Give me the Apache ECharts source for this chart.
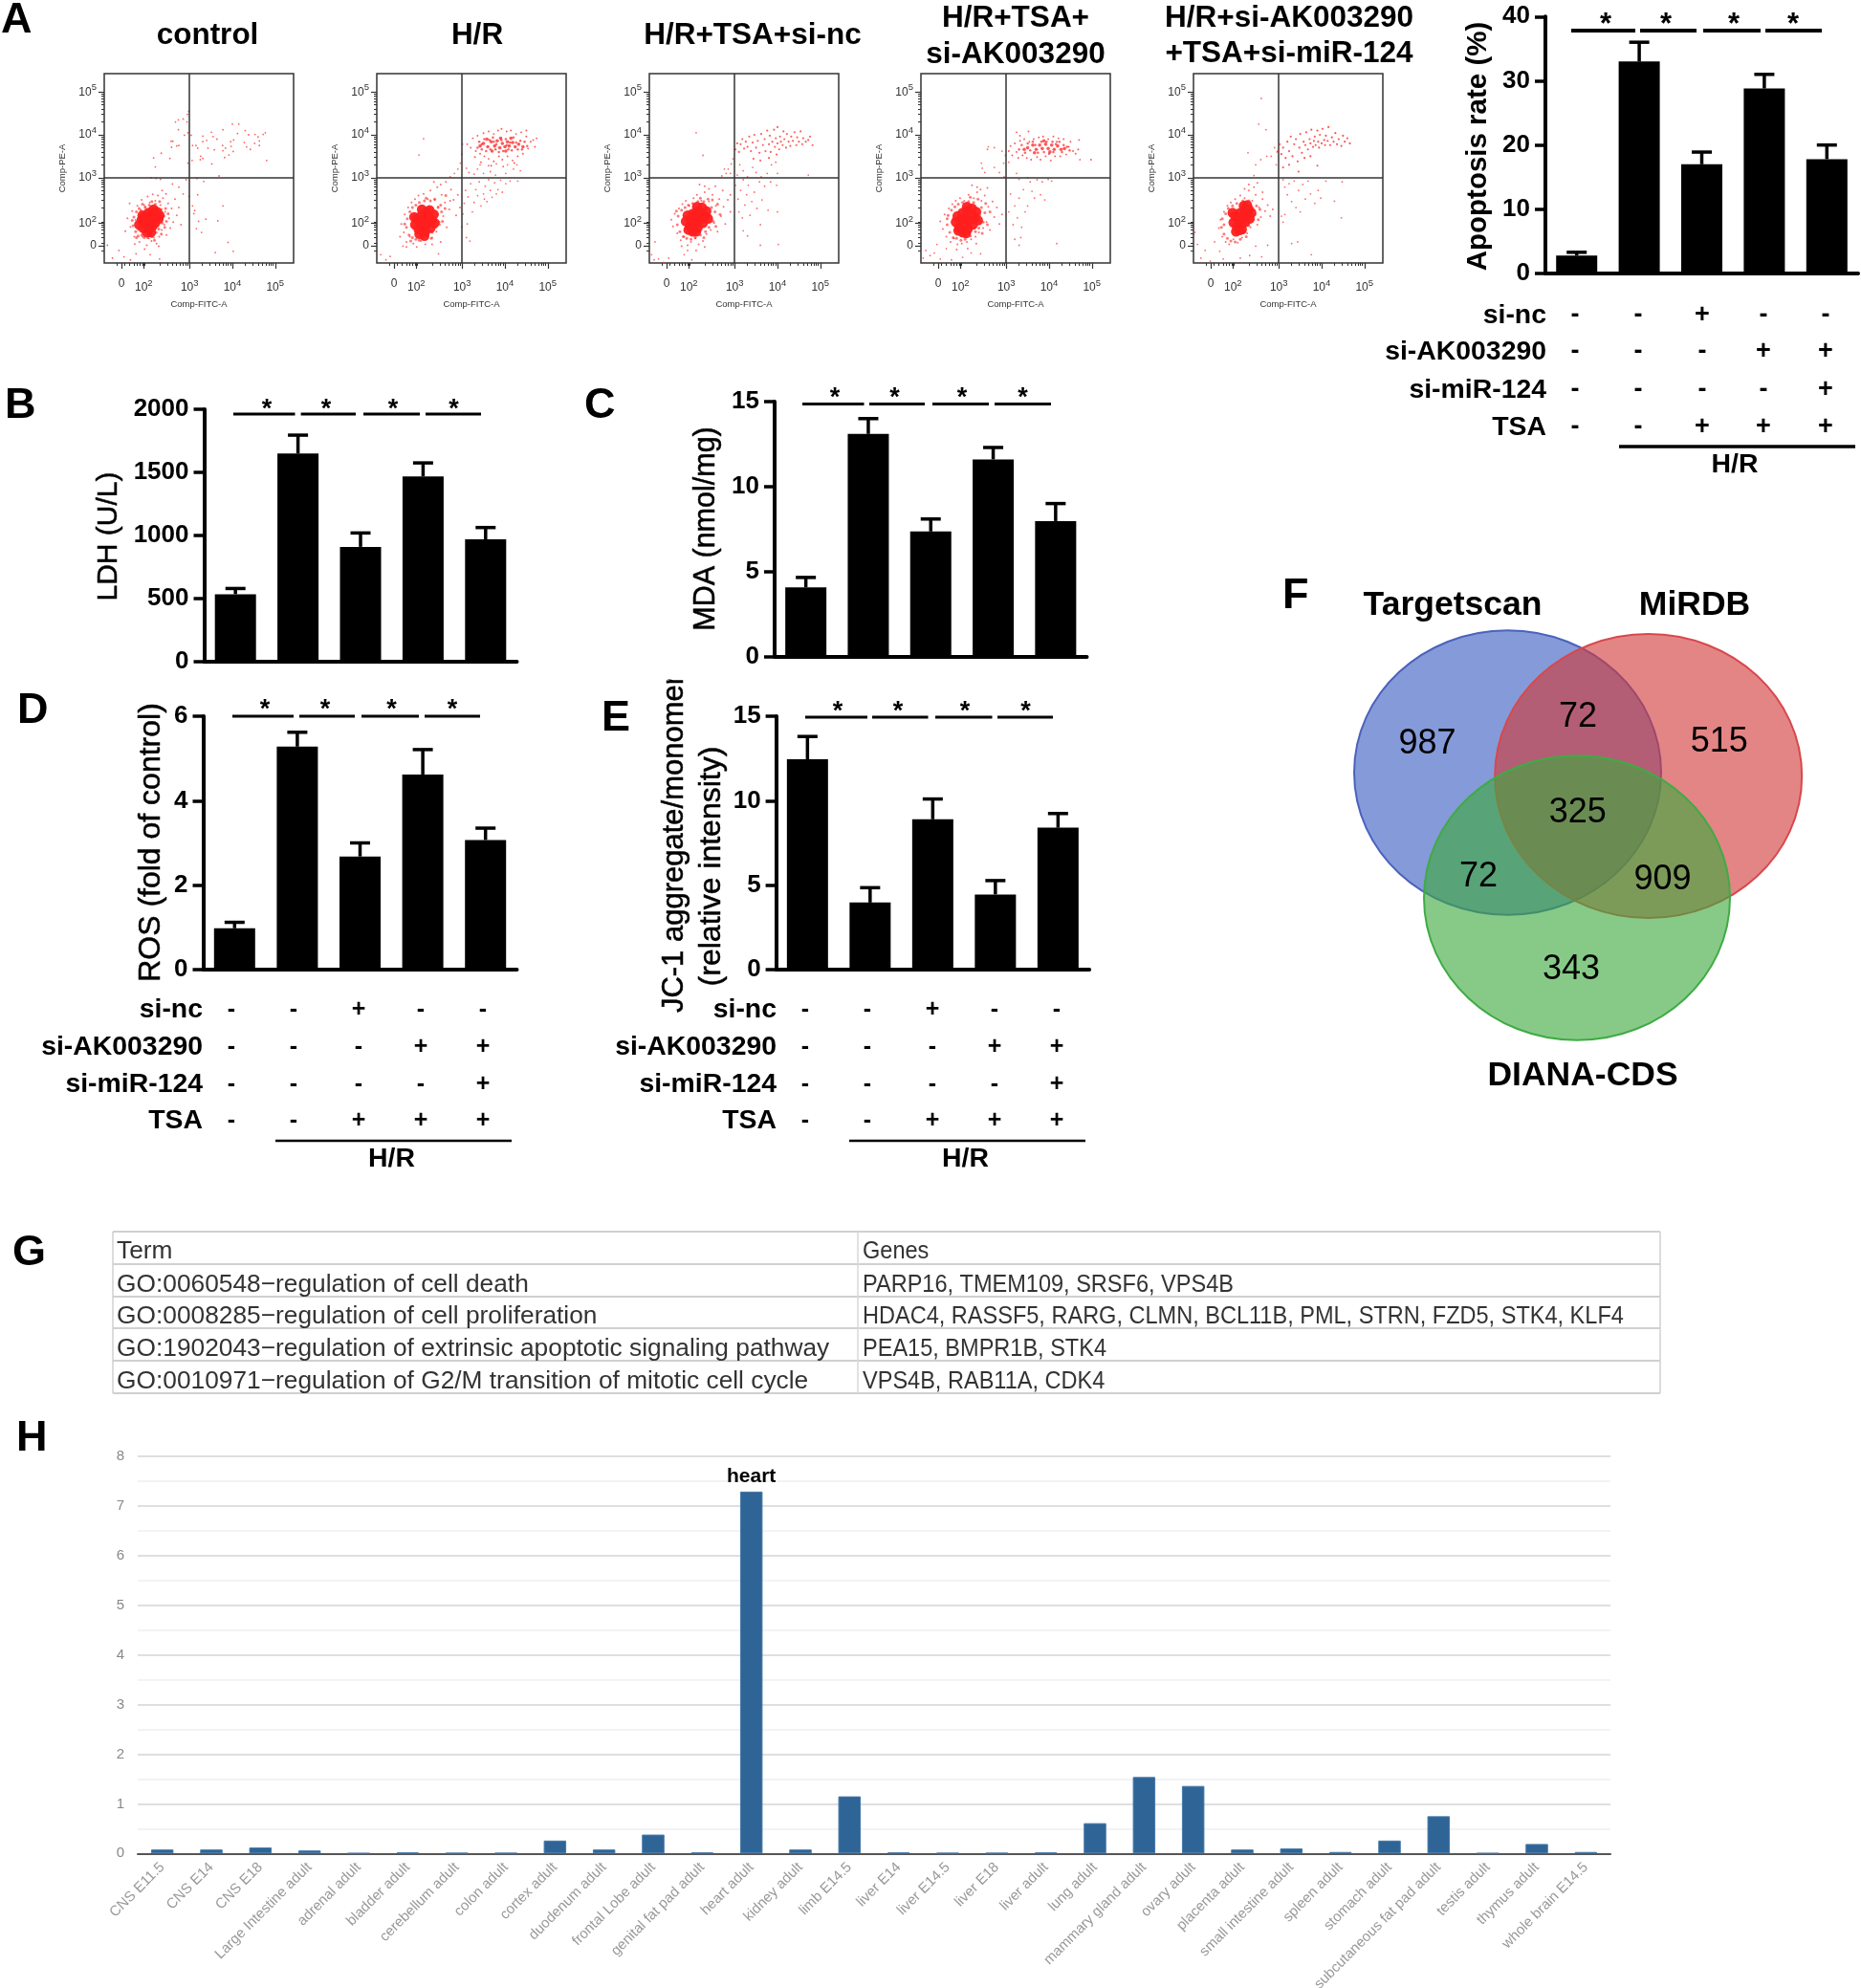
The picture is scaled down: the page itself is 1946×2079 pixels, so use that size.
<!DOCTYPE html>
<html><head><meta charset="utf-8">
<script src="https://cdn.jsdelivr.net/npm/echarts@6/dist/echarts.min.js"></script>
<style>html,body{margin:0;padding:0;background:#fff}#c{width:1946px;height:2079px}</style>
</head><body><div id="c"></div>
<script>
// ---------- bar data (A-E) ----------
const apoptosisMean=[2.8,33,17,28.8,17.8], apoptosisUpper=[3.3,36,18.9,31,20];
const ldhMean=[535,1650,910,1468,970], ldhUpper=[580,1795,1020,1575,1063];
const mdaMean=[4.07,13.1,7.36,11.6,7.97], mdaUpper=[4.65,14,8.09,12.3,9];
const rosMean=[0.98,5.28,2.68,4.62,3.07], rosUpper=[1.12,5.62,3,5.21,3.35];
const jcMean=[12.45,3.97,8.9,4.45,8.4], jcUpper=[13.8,4.85,10.1,5.27,9.24];
const groups=['control','H/R','H/R+TSA+si-nc','H/R+TSA+si-AK003290','H/R+si-AK003290+TSA+si-miR-124'];
const treatRows=['si-nc','si-AK003290','si-miR-124','TSA'];
const siNc=['-','-','+','-','-'], siAk=['-','-','-','+','+'], siMir=['-','-','-','-','+'], tsa=['-','-','+','+','+'];
// ---------- panel F / G / H ----------
const vennSets=['Targetscan','MiRDB','DIANA-CDS'];
const vennCounts=['987','72','515','325','72','909','343'];
const tableHead=['Term','Genes'];
const tableTerms=['GO:0060548\u2212regulation of cell death','GO:0008285\u2212regulation of cell proliferation','GO:1902043\u2212regulation of extrinsic apoptotic signaling pathway','GO:0010971\u2212regulation of G2/M transition of mitotic cell cycle'];
const tableGenes=['PARP16, TMEM109, SRSF6, VPS4B','HDAC4, RASSF5, RARG, CLMN, BCL11B, PML, STRN, FZD5, STK4, KLF4','PEA15, BMPR1B, STK4','VPS4B, RAB11A, CDK4'];
const tissues=['CNS E11.5','CNS E14','CNS E18','Large Intestine adult','adrenal adult','bladder adult','cerebellum adult','colon adult','cortex adult','duodenum adult','frontal Lobe adult','genital fat pad adult','heart adult','kidney adult','limb E14.5','liver E14','liver E14.5','liver E18','liver adult','lung adult','mammary gland adult','ovary adult','placenta adult','small intestine adult','spleen adult','stomach adult','subcutaneous fat pad adult','testis adult','thymus adult','whole brain E14.5'];
const tissueValues=[0.08,0.08,0.12,0.06,0.005,0.02,0.01,0.01,0.26,0.08,0.38,0.02,7.29,0.08,1.15,0.02,0.01,0.01,0.02,0.61,1.54,1.36,0.08,0.1,0.03,0.26,0.75,0.005,0.19,0.03];
// ---------- flow cytometry: read by eye, flat x,y lists on the biexponential decade scale ----------
const flowTickVals=[1.41,1.93,3,4,5], flowTickExp=['','2','3','4','5'];
const flow1Core=[1.82,1.9,1.88,2.02,1.92,1.82,1.96,2.1,2,1.92,2.04,2.18,2.04,1.78,2.08,2.02,2.12,2.2,2.13,1.86,2.18,2.08,2.2,1.94,2.24,2.2,2.28,2.04,1.97,1.98,2.1,1.72,2.3,2.12,1.9,2.12,2.16,2.26,2,1.72];
const flow1Mid=[1.68,1.88,1.7,2.08,1.74,1.74,1.76,2.2,1.8,1.64,1.82,2.28,1.88,1.66,1.86,2.24,1.94,1.6,1.96,2.3,2.02,1.6,2.06,2.36,2.12,1.62,2.2,2.38,2.22,1.72,2.28,1.8,2.34,2.26,2.36,1.94,2.4,2.1,2.42,1.84,2.44,2.28,2.5,2.16,2.3,2.44,2.12,2.44,1.9,2.38,1.76,1.6,2.34,1.68,2.46,1.98,1.66,2,2.18,1.54];
const flow1Halo=[1.55,2.05,1.62,1.85,1.66,2.22,1.71,1.62,1.74,2.01,1.78,2.34,1.8,1.78,1.83,1.5,1.86,2.15,1.88,2.48,1.9,1.62,1.94,2.36,1.97,2.32,2,1.42,2.02,2.56,2.05,1.58,2.07,2.42,2.11,1.52,2.14,2.61,2.17,1.6,2.2,2.46,2.23,1.46,2.26,2.58,2.29,1.62,2.32,2.36,2.35,1.78,2.38,2.52,2.41,1.9,2.43,2.2,2.46,1.66,2.5,2.4,2.52,2.05,2.55,1.82,2.58,2.28,2.62,1.96,2.66,2.5,2.7,2.12,2.75,2.3,2.8,1.9,1.6,2.4,1.5,1.75,1.72,1.45,1.95,1.33,2.28,1.4,2.45,2.62,2.36,2.7];
const flow1Sparse=[3.04,3.99,3.31,3.97,3.51,4.06,3.78,4.12,4,4.25,4.15,4.25,4.3,4.1,4.38,4,4.53,4.01,4.77,4.05,4.72,4.01,4.6,3.95,4.63,3.86,4.52,3.8,4.28,3.82,4.12,4.03,4.03,3.88,3.96,3.84,3.77,3.75,3.64,3.9,3.55,3.96,3.4,3.87,3.31,3.84,3.19,3.69,3.07,3.75,3.15,3.75,3.43,3.69,3.58,3.65,3.84,3.69,3.78,3.63,3.97,3.73,4.02,3.61,3.92,3.53,3.82,3.47,3.52,3.32,3.31,3.45,3.25,3.42,3.26,3.5,3.06,3.4,2.96,3.34,4.8,3.4,4.33,3.72,4.42,3.66,4.63,3.75,2.98,4.55,2.95,4.48,2.85,4.37,2.74,4.35,2.67,4.3,2.94,4.3,2.74,4.12,2.96,4.05,2.88,3.99,2.57,3.85,2.61,3.85,2.58,3.71,2.7,3.74,2.75,3.75,2.34,3.57,2.16,3.46,2.54,3.45,2.2,3.25,3.17,2.98,3.33,2.91,3.69,3.04,3.19,2.6,3.78,2.34,3.07,2.34,2.99,2.56,3.12,2.23,3.1,2.16,3.21,1.98,3.38,2.03,3.66,1.99,3.16,1.81,3.28,1.72,3.9,1.49,4.02,1.28,3.6,1.25,1.08,1.42,1.2,1.12,1.35,1.3,1.47,1.15,1.62,1.08,1.75,1.22,2.08,1.2,2.3,1.1,2.1,3.0,2.22,2.98,2.32,2.96,2.6,2.85,2.75,2.78,2.85,2.62,2.92,2.95];
const flow2Core=[1.9,1.9,1.94,2.04,1.98,1.8,2.02,1.96,2.05,2.12,2.08,1.84,2.1,2.02,2.14,1.74,2.16,2.18,2.18,1.92,2.22,2.08,2.26,1.82,2.3,2,2.34,2.14,2,1.68,2.12,1.64,1.88,2.08,2.24,2.24,2.36,1.94,2.06,2.26];
const flow2Mid=[1.7,1.84,1.72,2.04,1.76,1.66,1.78,2.2,1.84,1.6,1.84,2.3,1.92,1.56,1.92,2.36,2,1.54,2,2.42,2.08,1.58,2.12,2.46,2.18,1.64,2.26,2.46,2.3,1.72,2.38,1.84,2.42,2.14,2.44,2.3,2.46,1.96,2.52,2.2,2.36,2.5,2.16,2.52,1.66,1.92,2.5,2.36,2.54,1.98,2.6,2.28,1.8,1.52,2.28,1.58,2.62,2.58];
const flow2Halo=[1.58,1.92,1.64,1.72,1.66,2.14,1.7,1.5,1.74,2.3,1.78,1.62,1.82,2.42,1.86,1.46,1.9,2.5,1.94,1.38,1.98,2.58,2.04,1.52,2.1,2.62,2.14,1.44,2.2,2.5,2.26,2.7,2.3,1.6,2.36,2.48,2.4,1.74,2.44,2.32,2.48,1.9,2.52,2.6,2.56,2.1,2.6,2.42,2.64,1.84,2.7,2.26,2.74,2.72,2.8,2.48,2.86,2.12,2.42,2.78,2.5,2.84,2.34,2.9,2.62,2.9,2.72,2.46,2.9,2.6,2.95,2.3,2.3,1.44,2.5,1.5,1.7,1.38,1.55,1.62];
const flow2Sparse=[3.02,2.15,3.05,2.4,3.08,2.7,3.12,1.92,3.14,2.55,3.2,2.86,3.24,2.2,3.28,2.42,3.32,2.72,3.36,2.58,3.4,2.9,3.44,2.34,3.5,2.62,3.54,2.8,3.58,2.44,3.62,2.95,3.66,2.7,3.7,2.54,3.76,2.88,3.8,2.62,3.84,2.72,3.9,2.94,3.94,2.66,3,1.85,3.1,1.6,3.18,1.52,4.02,2.86,4.12,2.92,4.3,2.92,3.52,2.5,2.1,3.91,1.99,3.53,2.72,3.02,2.82,3.1,2.9,3.2,2.96,3.34,2.99,3.55,3.01,3.78,1.1,1.2,1.22,1.08,1.32,1.16,2.45,1.22,1.62,1.4,3.1,3.22,3.16,3.12,3.28,3.08,3.36,3.2,3.5,3.1,3.66,3.14,3.78,3.06,4.02,3.1,4.2,3.2,4.36,3.16,3.42,3.3,3.62,3.28,3.8,3.32,4.06,3.3,4.28,3.3];
const flow2ClusterCore=[3.5,3.8,3.6,3.72,3.68,3.84,3.76,3.74,3.82,3.86,3.88,3.7,3.94,3.8,4,3.72,4.06,3.84,4.1,3.74,4.18,3.82,4.24,3.72,4.32,3.78,3.42,3.74,4.42,3.72,3.9,3.92,4.02,3.62,3.7,3.62,4.14,3.92,3.58,3.9];
const flow2ClusterMid=[3.36,3.7,3.4,3.84,3.46,3.66,3.52,3.9,3.56,3.62,3.64,3.88,3.66,3.66,3.72,3.94,3.78,3.66,3.8,3.78,3.86,3.6,3.92,3.88,3.96,3.62,4.02,3.9,4.04,3.76,4.08,3.66,4.12,3.82,4.16,3.64,4.2,3.94,4.26,3.82,4.3,3.66,4.36,3.86,4.4,3.66,4.46,3.84,4.52,3.74,3.46,3.78,3.74,3.84];
const flow2ClusterHalo=[3.12,3.78,3.2,3.7,3.25,3.92,3.32,3.62,3.36,3.98,3.42,3.56,3.5,4.04,3.52,3.5,3.62,4.08,3.62,3.44,3.74,4.02,3.74,3.38,3.84,4.1,3.86,3.5,3.92,4.14,3.94,3.42,4.04,4.08,4.06,3.5,4.14,4.1,4.18,3.4,4.26,4.02,4.3,3.5,4.38,4.06,4.42,3.56,4.5,3.96,4.54,3.68,4.6,3.84,4.66,3.88,4.7,3.72,4.74,3.92,3.68,3.28,3.96,3.26,4.22,3.34,3.3,3.48,4.5,4.1,3.44,3.36];
const flow3Core=[1.86,1.98,1.9,2.12,1.95,1.86,1.98,2.02,2.02,2.16,2.06,1.9,2.08,2.04,2.12,2.2,2.14,1.84,2.18,2.02,2.22,2.16,2.26,1.94,2.3,2.1,2.34,2.22,2.02,1.74,1.92,1.78,2.24,2.3,2.1,1.74,2.38,2.04,2.12,2.32];
const flow3Mid=[1.66,1.9,1.68,2.1,1.72,1.74,1.76,2.24,1.8,1.62,1.84,2.3,1.88,1.58,1.92,2.36,1.98,1.56,2.02,2.4,2.08,1.6,2.14,2.44,2.2,1.66,2.28,2.44,2.32,1.74,2.4,1.84,2.42,2.12,2.46,2.3,2.5,1.98,2.54,2.2,2.38,2.5,2.2,2.52,2.6,2.38,2.66,2.14,2.28,1.6,1.64,2.22,2.56,1.86,2.48,2.48];
const flow3Halo=[1.52,2.02,1.56,1.86,1.6,2.16,1.66,1.7,1.7,2.28,1.74,1.54,1.78,2.38,1.82,1.62,1.86,2.46,1.9,1.42,1.94,2.34,1.98,1.5,2.04,2.52,2.08,1.58,2.12,2.6,2.16,1.44,2.22,2.46,2.26,1.52,2.3,2.66,2.34,1.68,2.4,2.44,2.44,1.78,2.48,2.6,2.52,1.94,2.56,2.34,2.6,1.74,2.64,2.5,2.68,2.1,2.74,2.32,2.78,1.92,2.84,2.48,2.9,2.2,2.4,2.74,2.3,2.8,2.18,2.84,2.55,2.8,2.72,2.7,2.9,2.6,2.1,1.3,2.3,1.38,1.76,1.4];
const flow3Sparse=[3.02,2.82,3.08,2.5,3.1,2.2,3.14,2.7,3.2,2.95,3.24,2.36,3.28,2.6,3.32,2.82,3.36,2.12,3.4,2.44,3.46,2.66,3.52,2.28,3.58,2.9,3.64,2.48,3.7,2.8,3.78,2.24,3.84,2.9,3.98,2.82,4,2.2,4.02,1.44,3.6,1.42,3.6,1.9,3.18,2.06,3.2,1.76,3.3,1.64,2.1,4.05,2.26,3.52,2.7,3.04,2.85,3.2,2.92,3.32,2.96,3.44,3,3.66,2.76,3.2,2.8,3.1,2.9,3.1,3.06,3.06,3.12,3.3,3.2,3.16,3.3,3.02,3.42,3.24,3.5,3.12,3.62,3.02,3.76,3.1,3.86,3.3,3.96,3.36,4.0,3.1,4.72,3.06,1.06,1.2,1.12,1.08,1.22,1.1,1.34,1.02,1.46,1.12,1.82,1.2,2,1.08,1.9,1.3,1.14,1.5];
const flow3Cluster=[3.02,3.66,3.06,3.8,3.1,3.6,3.14,3.78,3.18,3.9,3.22,3.68,3.26,3.84,3.3,3.72,3.34,3.96,3.38,3.62,3.42,3.82,3.46,4,3.5,3.7,3.54,3.86,3.58,3.58,3.62,4.02,3.66,3.76,3.7,3.9,3.72,3.62,3.76,4.1,3.8,3.78,3.82,3.98,3.84,3.6,3.88,3.84,3.92,4.12,3.94,3.72,3.96,3.92,4,3.8,4,4.18,4.04,3.66,4.06,3.96,4.08,3.84,4.12,3.76,4.14,4.08,4.16,3.9,4.2,3.7,4.22,4.02,4.26,3.84,4.3,3.74,4.32,3.96,4.36,3.86,4.4,4.06,4.44,3.76,4.46,3.94,4.5,3.84,4.54,4.08,4.58,3.78,4.6,3.92,4.66,3.84,4.72,3.88,4.76,3.96,4.82,3.76,3.98,3.54,3.8,3.46,3.6,3.4,3.44,3.44];
const flow4Core=[1.82,1.96,1.86,2.1,1.9,1.84,1.94,2.02,1.98,2.18,2.02,1.88,2.04,2.04,2.08,2.22,2.1,1.8,2.14,2,2.18,2.14,2.22,1.9,2.26,2.06,2.3,2.2,1.98,1.72,1.88,1.76,2.2,2.28,2.06,1.7,2.34,2,2.08,2.32];
const flow4Mid=[1.62,1.9,1.64,2.12,1.68,1.72,1.72,2.24,1.76,1.6,1.8,2.32,1.84,1.58,1.88,2.38,1.94,1.54,1.98,2.42,2.04,1.56,2.12,2.44,2.16,1.64,2.24,2.42,2.28,1.74,2.36,1.82,2.38,2.12,2.42,2.3,2.46,1.96,2.5,2.18,2.34,2.5,2.16,2.54,1.62,2.04,2.52,2.4,2.56,1.9,2.62,2.2,2.44,1.7,1.76,2.04];
const flow4Halo=[1.46,1.98,1.52,1.8,1.56,2.14,1.6,1.62,1.66,2.28,1.7,1.5,1.74,2.38,1.78,1.58,1.82,2.46,1.86,1.44,1.92,2.52,1.96,1.46,2.02,2.46,2.08,1.5,2.12,2.6,2.18,1.56,2.24,2.52,2.28,1.62,2.32,2.66,2.36,1.72,2.42,2.46,2.46,1.82,2.5,2.58,2.54,1.96,2.58,2.32,2.62,1.78,2.68,2.44,2.72,2.08,2.78,2.3,2.84,1.92,2.9,2.14,2.4,2.72,2.32,2.78,2.2,2.82,2.56,2.76,1.84,1.32,2.1,1.34,2.3,1.46];
const flow4Sparse=[3.06,2.2,3.1,2.62,3.16,1.9,3.2,2.34,3.26,2.06,3.3,2.52,3.36,1.84,3.4,2.72,3.44,2.2,3.5,2.34,3.56,2.9,3.6,2.68,3.66,2.52,3.72,2.95,3.8,2.6,3.84,2.9,3.9,2.48,3.98,2.96,4.06,2.92,3.2,1.56,3.34,1.6,3.3,1.42,4.18,1.46,2.58,3.72,2.56,3.66,2.42,3.34,2.44,3.22,2.5,3.12,2.72,3.24,2.84,3.12,2.94,3.34,2.98,3.52,2.9,3.62,2.72,3.7,2.95,3.02,3.24,3.1,3.06,3.36,4.72,3.42,3.3,2.96,3.5,3.0,1.06,1.12,1.12,1.3,1.22,1.18,1.32,1.24,1.38,1.44,1.46,1.1,1.72,1.08,1.98,1.14,2.18,1.24,1.6,1.34,2.4,1.22];
const flow4ClusterCore=[3.5,3.7,3.62,3.76,3.7,3.66,3.78,3.76,3.84,3.68,3.92,3.78,3.98,3.68,4.06,3.76,4.12,3.66,4.2,3.74,4.28,3.66,4.36,3.68,3.42,3.66,3.66,3.58,3.88,3.86,4.02,3.6];
const flow4ClusterMid=[3.3,3.66,3.36,3.76,3.44,3.58,3.5,3.8,3.56,3.64,3.62,3.84,3.68,3.76,3.74,3.58,3.82,3.84,3.88,3.6,3.94,3.84,4,3.56,4.08,3.84,4.1,3.6,4.16,3.78,4.24,3.84,4.3,3.6,4.34,3.76,4.42,3.72,4.48,3.64];
const flow4ClusterHalo=[3.06,3.62,3.1,3.74,3.14,3.52,3.2,3.8,3.24,3.6,3.28,3.46,3.32,3.86,3.38,3.52,3.42,3.9,3.48,3.46,3.54,3.84,3.58,3.42,3.64,3.9,3.72,3.48,3.76,3.94,3.8,3.42,3.86,3.96,3.92,3.5,3.98,3.9,4.04,3.4,4.1,3.96,4.14,3.5,4.22,3.92,4.26,3.5,4.34,3.9,4.4,3.54,4.46,3.72,4.5,3.84,4.56,3.62,4.62,3.56,4.68,3.66,4.7,3.88,4.18,3.84,3.32,3.98,3.52,4.08,3.24,4.06,4.98,3.42];
const flow5Core=[1.94,1.95,1.98,2.1,2.02,1.85,2.06,2.03,2.1,2.18,2.12,1.91,2.16,2.07,2.2,2.24,2.22,1.96,2.26,2.14,2.3,2.26,2.32,2.04,2.36,2.18,2.08,1.77,2,1.74,2.18,2.34,2.14,1.79,2.26,2.36,1.92,2.18];
const flow5Mid=[1.66,1.84,1.68,2.04,1.72,1.68,1.76,2.16,1.8,1.58,1.82,2.28,1.88,1.52,1.92,2.34,1.98,1.5,2.02,2.4,2.1,1.56,2.16,2.46,2.2,1.74,2.3,1.88,2.36,2.04,2.38,2.26,2.44,2.14,2.48,2.34,2.3,2.46,2.52,2.02,1.72,1.9,2.56,2.26,2.24,1.62];
const flow5Halo=[1.6,1.82,1.64,2.02,1.68,1.62,1.72,2.2,1.76,1.5,1.8,2.34,1.84,1.44,1.88,2.42,1.94,1.56,1.98,2.5,2.04,1.48,2.1,2.58,2.14,1.6,2.2,2.52,2.26,1.7,2.3,2.7,2.34,1.84,2.38,2.46,2.42,2.02,2.46,2.6,2.5,1.9,2.54,2.3,2.58,2.08,2.62,2.5,2.68,2.22,2.74,2.36,2.8,2.1,2.86,2.26,2.3,2.84,2.42,2.78,2.5,2.88,2.2,2.74,2.62,2.66];
const flow5Sparse=[2.59,4.85,2.53,4.25,2.7,4.12,2.28,3.58,2.46,3.3,2.58,3.42,2.72,3.5,2.82,3.5,2.9,3.7,2.94,3.3,2.42,3.05,2.96,3.6,3.1,2.95,3.14,2.78,3.2,2.6,3.24,2.86,3.3,2.44,3.36,2.92,3.4,2.3,3.46,2.7,3.5,2.2,3.56,2.84,3.62,2.5,3.68,2.92,3.74,2.62,3.84,2.4,3.92,2.7,3.98,2.52,4.1,2.92,4.3,2.45,4.48,2.9,4.46,2.06,3.44,1.5,3.3,1.46,3.76,1.2,3.06,2.1,3.1,1.96,3.14,2.14,1.04,1.72,1.1,1.44,1.18,1.12,1.28,1.3,1.4,1.05,1.5,1.5,1.62,1.28,1.7,1.1,2.1,1.12,2.32,1.18,2.6,1.15,2.74,1.42,2.46,1.4];
const flow5Cluster=[2.98,3.62,3.02,3.78,3.06,3.55,3.1,3.7,3.16,3.46,3.2,3.84,3.24,3.62,3.28,3.96,3.32,3.5,3.36,3.78,3.4,3.9,3.44,3.38,3.48,3.7,3.5,4.02,3.54,3.58,3.58,3.84,3.62,3.76,3.64,4.06,3.68,3.66,3.72,3.9,3.74,3.8,3.76,4.12,3.8,3.72,3.82,3.86,3.84,3.96,3.86,3.76,3.9,4.1,3.92,3.84,3.94,3.7,3.96,4,4,3.8,4.02,4.14,4.06,3.88,4.08,3.76,4.1,3.98,4.14,3.86,4.16,4.18,4.2,3.76,4.24,3.94,4.28,3.84,4.32,4.04,4.36,3.78,4.4,3.9,4.46,3.74,4.5,3.98,4.54,3.84,4.6,3.92,4.66,3.8,3.6,3.46,3.74,3.5,3.9,3.28,3.1,3.24,3.24,3.3,3.46,3.14];

function pairs(a){const o=[];for(let i=0;i+1<a.length;i+=2)o.push([a[i],a[i+1]]);return o;}
const F='"Liberation Sans",Arial,sans-serif';
const grid=[],xAxis=[],yAxis=[],series=[],g=[];
function T(x,y,text,size,o){o=o||{};g.push({type:'text',x,y,rotation:o.rot||0,scaleX:o.sx||1,z:o.z||50,silent:true,style:{text,font:(o.w||'normal')+' '+size+'px '+F,fill:o.c||'#000',textAlign:o.a||'center',textVerticalAlign:'middle',stroke:o.st?'#000':null,lineWidth:o.st||0}});}
function L(x1,y1,x2,y2,w,c){g.push({type:'line',z:40,silent:true,shape:{x1,y1,x2,y2},style:{stroke:c||'#000',lineWidth:w}});}

// ---------- flow plots ----------
const FMIN=1.007,FMAX=5.43;
const minorTicks=[];
[1,2,3,4].forEach(d=>{for(let k=2;k<10;k++){const v=d+Math.log10(k);if(v>FMIN&&v<5.2)minorTicks.push(v);}});
const supLabel={customValues:flowTickVals,color:'#333',fontFamily:F,rich:{n:{fontSize:12,color:'#333',fontFamily:F},s:{fontSize:9.5,color:'#333',fontFamily:F,padding:[0,0,9,0]}},formatter:v=>{let i=0,b=9;flowTickVals.forEach((t,j)=>{if(Math.abs(t-v)<b){b=Math.abs(t-v);i=j;}});return flowTickExp[i]?'{n|10}{s|'+flowTickExp[i]+'}':'{n|0}';}};
function flowPlot(left,layers){
  const gi=grid.length;
  grid.push({left,top:77,width:198,height:198,show:true,borderColor:'#333',borderWidth:1.5,backgroundColor:'transparent',outerBoundsMode:'none'});
  const xi=xAxis.length,yi=yAxis.length;
  const base={type:'value',min:FMIN,max:FMAX,gridIndex:gi,splitLine:{show:false}};
  xAxis.push({...base,position:'bottom',axisLine:{show:false},axisTick:{show:true,customValues:flowTickVals,length:6,lineStyle:{color:'#333',width:1.2}},axisLabel:{...supLabel,margin:16}});
  xAxis.push({...base,position:'bottom',axisLine:{show:false},axisTick:{show:true,customValues:minorTicks,length:3,lineStyle:{color:'#333',width:1}},axisLabel:{show:false}});
  yAxis.push({...base,position:'left',axisLine:{show:false},axisTick:{show:true,customValues:flowTickVals,length:6,lineStyle:{color:'#333',width:1.2}},axisLabel:{...supLabel,margin:8}});
  yAxis.push({...base,position:'left',axisLine:{show:false},axisTick:{show:true,customValues:minorTicks,length:3,lineStyle:{color:'#333',width:1}},axisLabel:{show:false}});
  layers.forEach((l,n)=>series.push({type:'scatter',xAxisIndex:xi,yAxisIndex:yi,data:pairs(l[0]),symbolSize:l[1],itemStyle:{color:l[3]||'#ff1f1f',opacity:l[2]},silent:true,z:2+n,
    markLine:n==0?{silent:true,symbol:'none',label:{show:false},animation:false,lineStyle:{color:'#333',width:1.5,type:'solid'},data:[{xAxis:3},{yAxis:3}]}:undefined}));
  T(left+99,318,'Comp-FITC-A',9.5,{c:'#333'});
  T(left-44,176,'Comp-PE-A',9.5,{c:'#333',rot:Math.PI/2});
}
flowPlot(109,[[flow1Sparse,1.8,0.8,'#ff3a3a'],[flow1Halo,2,0.65],[flow1Mid,3,0.6],[flow1Core,10.5,0.95]]);
flowPlot(394,[[flow2Sparse,1.8,0.75,'#ff3a3a'],[flow2Halo,2,0.65],[flow2Mid,3,0.6],[flow2Core,10.5,0.95],[flow2ClusterHalo,1.9,0.75],[flow2ClusterMid,2.5,0.7],[flow2ClusterCore,3.6,0.75]]);
flowPlot(679,[[flow3Sparse,1.8,0.75,'#ff3a3a'],[flow3Halo,2,0.65],[flow3Mid,3,0.6],[flow3Core,10.5,0.95],[flow3Cluster,2.2,0.7]]);
flowPlot(963,[[flow4Sparse,1.8,0.75,'#ff3a3a'],[flow4Halo,2,0.65],[flow4Mid,3,0.6],[flow4Core,10.5,0.95],[flow4ClusterHalo,1.9,0.75],[flow4ClusterMid,2.5,0.7],[flow4ClusterCore,3.6,0.75]]);
flowPlot(1248,[[flow5Sparse,1.8,0.75,'#ff3a3a'],[flow5Halo,2,0.65],[flow5Mid,3,0.6],[flow5Core,10.5,0.95],[flow5Cluster,2.2,0.75]]);

// ---------- bar panels ----------
function errRender(w,hw){return function(p,api){const i=api.value(0),t=api.coord([i,api.value(1)]),b=api.coord([i,api.value(2)]);
  return {type:'group',children:[{type:'line',shape:{x1:t[0],y1:t[1],x2:b[0],y2:b[1]},style:{stroke:'#000',lineWidth:w}},{type:'line',shape:{x1:t[0]-hw,y1:t[1],x2:t[0]+hw,y2:t[1]},style:{stroke:'#000',lineWidth:w}}]};};}
function barPanel(box,mean,upper,max,interval,fs){
  const gi=grid.length;
  grid.push({left:box[0],top:box[1],width:box[2],height:box[3],outerBoundsMode:'none'});
  const xi=xAxis.length,yi=yAxis.length;
  xAxis.push({type:'category',gridIndex:gi,data:groups,axisLine:{lineStyle:{color:'#000',width:4}},axisTick:{alignWithLabel:true,length:11,lineStyle:{color:'#000',width:3.5}},axisLabel:{show:false}});
  yAxis.push({type:'value',gridIndex:gi,min:0,max,interval,axisLine:{show:true,lineStyle:{color:'#000',width:4}},axisTick:{show:true,length:11,lineStyle:{color:'#000',width:3.5}},axisLabel:{color:'#000',fontWeight:'bold',fontSize:fs,fontFamily:F,margin:16,formatter:v=>String(v)},splitLine:{show:false}});
  series.push({type:'bar',xAxisIndex:xi,yAxisIndex:yi,data:mean,barWidth:43,itemStyle:{color:'#000'},silent:true,z:3});
  series.push({type:'custom',xAxisIndex:xi,yAxisIndex:yi,silent:true,z:2,encode:{x:0,y:1},data:mean.map((m,i)=>[i,upper[i],m]),renderItem:errRender(3.5,10.5),clip:false});
}
barPanel([1616,17.3,327,268.7],apoptosisMean,apoptosisUpper,40,10,26);
barPanel([213.5,428,327,264],ldhMean,ldhUpper,2000,500,26);
barPanel([810,420,326.5,266.5],mdaMean,mdaUpper,15,5,26);
barPanel([212.5,749,328,265],rosMean,rosUpper,6,2,26);
barPanel([811.6,749,327.5,265],jcMean,jcUpper,15,5,26);

function sig(y,segs,stars,sy,w,s){segs.forEach(a=>L(a[0],y,a[1],y,w));stars.forEach(x=>T(x,sy+s*0.22,'*',s,{w:'bold'}));}
sig(32,[[1643,1710],[1715,1774],[1781,1841],[1846,1905]],[1679,1742,1813,1875],20,4,31);
sig(433,[[244,308.5],[314.6,372],[380,439],[445,503]],[279,341,411,474.5],422.5,3,27);
sig(422.5,[[839,903.5],[909,967],[975,1034],[1040,1099]],[873,935.6,1006,1069.6],410.7,3,27);
sig(749,[[243,307],[313,371],[378,438],[444,502]],[277,340,409.5,473],737,3,27);
sig(750,[[842,907],[912,970.5],[978,1037.5],[1043,1101]],[876,939,1009,1072.6],738.5,3,27);

function treat(lx,xs,ys,fs,ms,lineX,lineY,lw,hx,hy){
  [siNc,siAk,siMir,tsa].forEach((row,r)=>{T(lx,ys[r],treatRows[r],fs,{w:'bold',a:'right'});row.forEach((m,i)=>T(xs[i],ys[r],m,ms,{w:'bold'}));});
  L(lineX[0],lineY,lineX[1],lineY,lw);T(hx,hy,'H/R',fs,{w:'bold'});
}
treat(1617,[1647,1713,1780,1844,1909],[330,368,408,447],28.4,27,[1693,1940],467,3.5,1814,486);
treat(212,[242,307,375,440,505],[1056,1095,1134,1172],28.4,25,[288,535],1193,2.5,409.5,1212);
treat(812,[842,907,975,1040,1105],[1056,1095,1134,1172],28.4,25,[888,1135],1193,2.5,1009.5,1212);

// axis titles
const up=Math.PI/2;
T(1546,153,'Apoptosis rate (%)',29.5,{w:'bold',rot:up});
T(114,561,'LDH (U/L)',30,{rot:up,st:0.5});
T(738.5,553,'MDA (nmol/mg)',30.5,{rot:up,st:0.5});
T(158,881,'ROS (fold of control)',32,{rot:up,st:0.5});
T(705,882.5,'JC-1 aggregate/monomer',31,{rot:up,st:0.5});
T(744,906,'(relative intensity)',32,{rot:up,st:0.5});
g.push({type:'rect',z:60,silent:true,shape:{x:690,y:694,width:30,height:16.5},style:{fill:'#fff'}});

// column titles
const tit={w:'bold'};
T(217,37,'control',31.5,tit);
T(499,37,'H/R',31.5,tit);
T(787,37,'H/R+TSA+si-nc',31.5,tit);
T(1062,19,'H/R+TSA+',31.5,tit);T(1062,57,'si-AK003290',31.5,tit);
T(1348,19,'H/R+si-AK003290',31.5,tit);T(1348,56,'+TSA+si-miR-124',31.5,tit);

// panel letters
[['A',1,22],['B',5,425],['C',611,425],['D',18,744],['E',629,752],['F',1341,624],['G',13,1311],['H',17,1505]].forEach(a=>T(a[1],a[2],a[0],45,{w:'bold',a:'left'}));

// ---------- venn ----------
[[1576.5,808,160.5,148.7,'rgba(58,92,192,0.62)','#4a62bd'],[1723.7,811.6,160.5,148.5,'rgba(210,58,58,0.62)','#d8484c'],[1649,939,160,148.7,'rgba(62,170,62,0.62)','#3fab45']].forEach(e=>
  g.push({type:'ellipse',z:20,silent:true,shape:{cx:e[0],cy:e[1],rx:e[2],ry:e[3]},style:{fill:e[4],stroke:e[5],lineWidth:2}}));
[[1492.6,778.5],[1650,750],[1797.7,776],[1649.7,850],[1546,917],[1738.5,920.5],[1643,1014]].forEach((p,i)=>T(p[0],p[1],vennCounts[i],36));
T(1519,633,vennSets[0],35.5,{w:'bold'});T(1772,633,vennSets[1],35.5,{w:'bold'});T(1655,1125,vennSets[2],35.5,{w:'bold'});

// ---------- table G ----------
const tY=[1288,1322,1356,1389,1423,1457];
tY.forEach(y=>L(118,y,1736,y,2,'#d0d0d0'));
L(118,1288,118,1457,1.5,'#d0d0d0');L(1736,1288,1736,1457,1.5,'#d0d0d0');L(897,1288,897,1457,1.5,'#d8d8d8');
const tc={a:'left',c:'#333',sx:1.012}, tg={a:'left',c:'#333',sx:0.905};
T(122,1309,tableHead[0],26,tc);T(902,1309,tableHead[1],26,tg);
tableTerms.forEach((t,i)=>{const y=[1343.5,1377,1410.5,1444.5][i];T(122,y,t,26,tc);T(902,y,tableGenes[i],26,tg);});

// ---------- panel H ----------
{
  const gi=grid.length;
  grid.push({left:144,top:1523,width:1540,height:415.3,outerBoundsMode:'none',containLabel:false});
  xAxis.push({type:'category',gridIndex:gi,data:tissues,axisLine:{lineStyle:{color:'#555',width:2}},axisTick:{show:false},axisLabel:{interval:0,rotate:45,color:'#999',fontSize:15,fontFamily:F,margin:12}});
  yAxis.push({type:'value',gridIndex:gi,min:0,max:8,interval:1,axisLine:{show:false},axisTick:{show:false},axisLabel:{color:'#888',fontSize:15,fontFamily:F,margin:14},splitLine:{lineStyle:{color:'#d4d4d4',width:1.5}},minorTick:{show:false,splitNumber:2},minorSplitLine:{show:true,lineStyle:{color:'#efefef',width:1.5}}});
  series.push({type:'bar',xAxisIndex:xAxis.length-1,yAxisIndex:yAxis.length-1,barWidth:23.5,silent:true,z:3,itemStyle:{color:'#2f6496',borderColor:'#4477a8',borderWidth:1},
    data:tissueValues.map((v,i)=>tissues[i]==='heart adult'?{value:v,label:{show:true,position:'top',distance:5,formatter:'heart',color:'#000',fontWeight:'bold',fontSize:21,fontFamily:F}}:v)});
}

const chart=echarts.init(document.getElementById('c'),null,{renderer:'canvas',width:1946,height:2079});
chart.setOption({animation:false,backgroundColor:'#fff',textStyle:{fontFamily:F},grid,xAxis,yAxis,series,graphic:{elements:g}});
</script></body></html>
